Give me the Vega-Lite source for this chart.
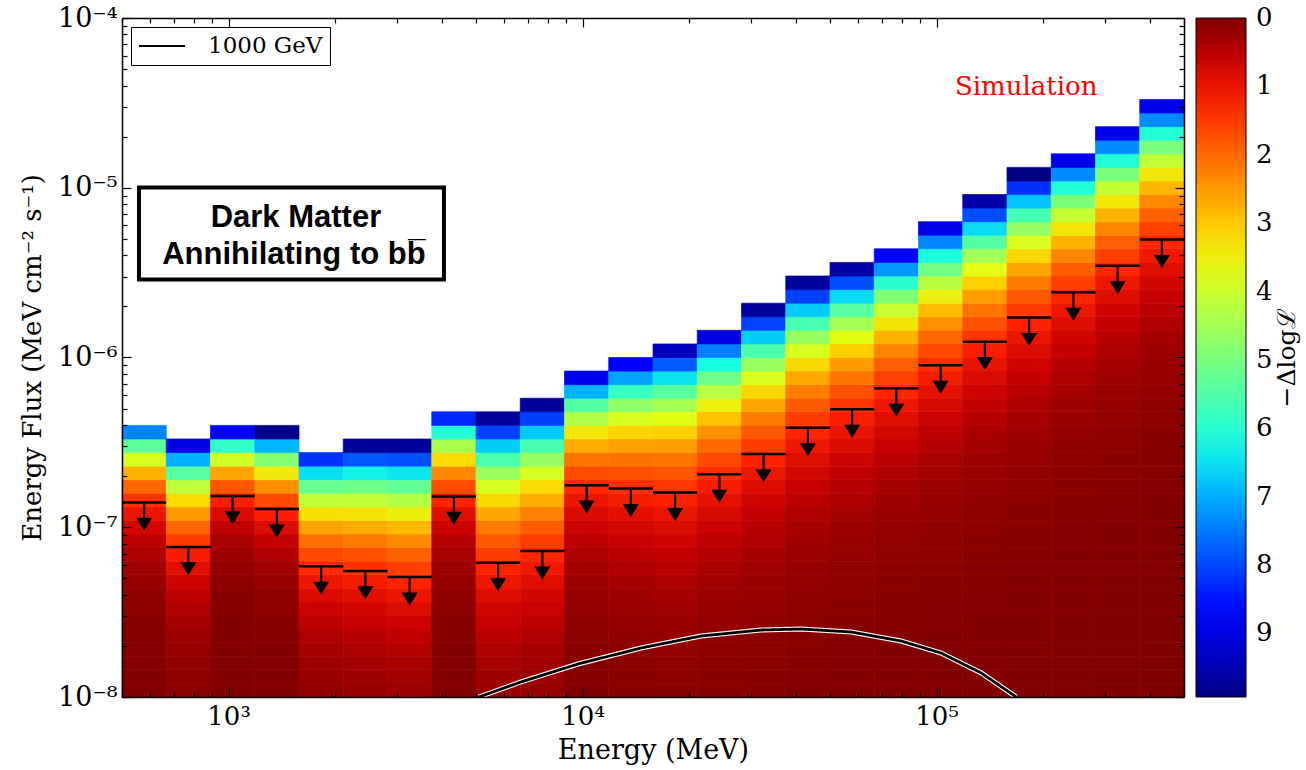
{
"$schema":"https://vega.github.io/schema/vega-lite/v6.json",
"width":1062,"height":679,
"autosize":"none",
"padding":{"left":122,"top":18,"right":122,"bottom":73},
"background":"white",
"config":{"view":{"stroke":null},"font":"DejaVu Serif"},
"datasets":{
"ebins":[{"b":0,"e0":500,"e1":666.76,"ec":577.4},{"b":1,"e0":666.76,"e1":889.14,"ec":769.97},{"b":2,"e0":889.14,"e1":1185.68,"ec":1026.8},{"b":3,"e0":1185.68,"e1":1581.14,"ec":1369.2},{"b":4,"e0":1581.14,"e1":2108.49,"ec":1825.9},{"b":5,"e0":2108.49,"e1":2811.71,"ec":2434.8},{"b":6,"e0":2811.71,"e1":3749.47,"ec":3246.9},{"b":7,"e0":3749.47,"e1":5000,"ec":4329.8},{"b":8,"e0":5000,"e1":6667.6,"ec":5773.9},{"b":9,"e0":6667.6,"e1":8891.4,"ec":7699.7},{"b":10,"e0":8891.4,"e1":11856.8,"ec":10267.6},{"b":11,"e0":11856.8,"e1":15811.4,"ec":13692},{"b":12,"e0":15811.4,"e1":21084.9,"ec":18258.9},{"b":13,"e0":21084.9,"e1":28117.1,"ec":24348.8},{"b":14,"e0":28117.1,"e1":37494.7,"ec":32469.4},{"b":15,"e0":37494.7,"e1":50000,"ec":43298.5},{"b":16,"e0":50000,"e1":66676,"ec":57739},{"b":17,"e0":66676,"e1":88914,"ec":76996},{"b":18,"e0":88914,"e1":118568,"ec":102676},{"b":19,"e0":118568,"e1":158114,"ec":136921},{"b":20,"e0":158114,"e1":210849,"ec":182585},{"b":21,"e0":210849,"e1":281171,"ec":243487},{"b":22,"e0":281171,"e1":374947,"ec":324693},{"b":23,"e0":374947,"e1":500000,"ec":432987}],
"fgrid":[{"k":0,"f0":1e-8,"f1":1.20226e-8},{"k":1,"f0":1.20226e-8,"f1":1.44544e-8},{"k":2,"f0":1.44544e-8,"f1":1.7378e-8},{"k":3,"f0":1.7378e-8,"f1":2.0893e-8},{"k":4,"f0":2.0893e-8,"f1":2.51189e-8},{"k":5,"f0":2.51189e-8,"f1":3.01995e-8},{"k":6,"f0":3.01995e-8,"f1":3.63078e-8},{"k":7,"f0":3.63078e-8,"f1":4.36516e-8},{"k":8,"f0":4.36516e-8,"f1":5.24807e-8},{"k":9,"f0":5.24807e-8,"f1":6.30957e-8},{"k":10,"f0":6.30957e-8,"f1":7.58578e-8},{"k":11,"f0":7.58578e-8,"f1":9.12011e-8},{"k":12,"f0":9.12011e-8,"f1":1.09648e-7},{"k":13,"f0":1.09648e-7,"f1":1.31826e-7},{"k":14,"f0":1.31826e-7,"f1":1.58489e-7},{"k":15,"f0":1.58489e-7,"f1":1.90546e-7},{"k":16,"f0":1.90546e-7,"f1":2.29087e-7},{"k":17,"f0":2.29087e-7,"f1":2.75423e-7},{"k":18,"f0":2.75423e-7,"f1":3.31131e-7},{"k":19,"f0":3.31131e-7,"f1":3.98107e-7},{"k":20,"f0":3.98107e-7,"f1":4.7863e-7},{"k":21,"f0":4.7863e-7,"f1":5.7544e-7},{"k":22,"f0":5.7544e-7,"f1":6.91831e-7},{"k":23,"f0":6.91831e-7,"f1":8.31764e-7},{"k":24,"f0":8.31764e-7,"f1":1e-6},{"k":25,"f0":1e-6,"f1":1.20226e-6},{"k":26,"f0":1.20226e-6,"f1":1.44544e-6},{"k":27,"f0":1.44544e-6,"f1":1.7378e-6},{"k":28,"f0":1.7378e-6,"f1":2.0893e-6},{"k":29,"f0":2.0893e-6,"f1":2.51189e-6},{"k":30,"f0":2.51189e-6,"f1":3.01995e-6},{"k":31,"f0":3.01995e-6,"f1":3.63078e-6},{"k":32,"f0":3.63078e-6,"f1":4.36516e-6},{"k":33,"f0":4.36516e-6,"f1":5.24807e-6},{"k":34,"f0":5.24807e-6,"f1":6.30957e-6},{"k":35,"f0":6.30957e-6,"f1":7.58578e-6},{"k":36,"f0":7.58578e-6,"f1":9.12011e-6},{"k":37,"f0":9.12011e-6,"f1":1.09648e-5},{"k":38,"f0":1.09648e-5,"f1":1.31826e-5},{"k":39,"f0":1.31826e-5,"f1":1.58489e-5},{"k":40,"f0":1.58489e-5,"f1":1.90546e-5},{"k":41,"f0":1.90546e-5,"f1":2.29087e-5},{"k":42,"f0":2.29087e-5,"f1":2.75423e-5},{"k":43,"f0":2.75423e-5,"f1":3.31131e-5}],
"cells":[
{"b":0,"k":0,"dl":-0.014},{"b":0,"k":1,"dl":-0.02},{"b":0,"k":2,"dl":-0.028},{"b":0,"k":3,"dl":-0.039},{"b":0,"k":4,"dl":-0.054},{"b":0,"k":5,"dl":-0.074},{"b":0,"k":6,"dl":-0.103},{"b":0,"k":7,"dl":-0.143},{"b":0,"k":8,"dl":-0.199},{"b":0,"k":9,"dl":-0.277},{"b":0,"k":10,"dl":-0.384},{"b":0,"k":11,"dl":-0.534},{"b":0,"k":12,"dl":-0.742},{"b":0,"k":13,"dl":-1.03},{"b":0,"k":14,"dl":-1.43},{"b":0,"k":15,"dl":-1.99},{"b":0,"k":16,"dl":-2.76},{"b":0,"k":17,"dl":-3.83},{"b":0,"k":18,"dl":-5.33},{"b":0,"k":19,"dl":-7.4},
{"b":1,"k":0,"dl":-0.092},{"b":1,"k":1,"dl":-0.119},{"b":1,"k":2,"dl":-0.153},{"b":1,"k":3,"dl":-0.197},{"b":1,"k":4,"dl":-0.254},{"b":1,"k":5,"dl":-0.328},{"b":1,"k":6,"dl":-0.423},{"b":1,"k":7,"dl":-0.546},{"b":1,"k":8,"dl":-0.705},{"b":1,"k":9,"dl":-0.909},{"b":1,"k":10,"dl":-1.17},{"b":1,"k":11,"dl":-1.51},{"b":1,"k":12,"dl":-1.95},{"b":1,"k":13,"dl":-2.52},{"b":1,"k":14,"dl":-3.25},{"b":1,"k":15,"dl":-4.19},{"b":1,"k":16,"dl":-5.41},{"b":1,"k":17,"dl":-6.98},{"b":1,"k":18,"dl":-9.0},
{"b":2,"k":0,"dl":-0.005},{"b":2,"k":1,"dl":-0.007},{"b":2,"k":2,"dl":-0.01},{"b":2,"k":3,"dl":-0.015},{"b":2,"k":4,"dl":-0.023},{"b":2,"k":5,"dl":-0.034},{"b":2,"k":6,"dl":-0.051},{"b":2,"k":7,"dl":-0.075},{"b":2,"k":8,"dl":-0.112},{"b":2,"k":9,"dl":-0.166},{"b":2,"k":10,"dl":-0.247},{"b":2,"k":11,"dl":-0.366},{"b":2,"k":12,"dl":-0.544},{"b":2,"k":13,"dl":-0.809},{"b":2,"k":14,"dl":-1.2},{"b":2,"k":15,"dl":-1.79},{"b":2,"k":16,"dl":-2.65},{"b":2,"k":17,"dl":-3.94},{"b":2,"k":18,"dl":-5.86},{"b":2,"k":19,"dl":-8.7},
{"b":3,"k":0,"dl":-0.013},{"b":3,"k":1,"dl":-0.018},{"b":3,"k":2,"dl":-0.025},{"b":3,"k":3,"dl":-0.036},{"b":3,"k":4,"dl":-0.051},{"b":3,"k":5,"dl":-0.072},{"b":3,"k":6,"dl":-0.102},{"b":3,"k":7,"dl":-0.145},{"b":3,"k":8,"dl":-0.206},{"b":3,"k":9,"dl":-0.293},{"b":3,"k":10,"dl":-0.416},{"b":3,"k":11,"dl":-0.591},{"b":3,"k":12,"dl":-0.84},{"b":3,"k":13,"dl":-1.19},{"b":3,"k":14,"dl":-1.69},{"b":3,"k":15,"dl":-2.41},{"b":3,"k":16,"dl":-3.42},{"b":3,"k":17,"dl":-4.86},{"b":3,"k":18,"dl":-6.9},{"b":3,"k":19,"dl":-9.8},
{"b":4,"k":0,"dl":-0.167},{"b":4,"k":1,"dl":-0.21},{"b":4,"k":2,"dl":-0.264},{"b":4,"k":3,"dl":-0.332},{"b":4,"k":4,"dl":-0.418},{"b":4,"k":5,"dl":-0.525},{"b":4,"k":6,"dl":-0.66},{"b":4,"k":7,"dl":-0.83},{"b":4,"k":8,"dl":-1.04},{"b":4,"k":9,"dl":-1.31},{"b":4,"k":10,"dl":-1.65},{"b":4,"k":11,"dl":-2.07},{"b":4,"k":12,"dl":-2.61},{"b":4,"k":13,"dl":-3.28},{"b":4,"k":14,"dl":-4.12},{"b":4,"k":15,"dl":-5.19},{"b":4,"k":16,"dl":-6.52},{"b":4,"k":17,"dl":-8.2},
{"b":5,"k":0,"dl":-0.206},{"b":5,"k":1,"dl":-0.255},{"b":5,"k":2,"dl":-0.316},{"b":5,"k":3,"dl":-0.391},{"b":5,"k":4,"dl":-0.485},{"b":5,"k":5,"dl":-0.6},{"b":5,"k":6,"dl":-0.743},{"b":5,"k":7,"dl":-0.921},{"b":5,"k":8,"dl":-1.14},{"b":5,"k":9,"dl":-1.41},{"b":5,"k":10,"dl":-1.75},{"b":5,"k":11,"dl":-2.17},{"b":5,"k":12,"dl":-2.69},{"b":5,"k":13,"dl":-3.33},{"b":5,"k":14,"dl":-4.12},{"b":5,"k":15,"dl":-5.1},{"b":5,"k":16,"dl":-6.32},{"b":5,"k":17,"dl":-7.83},{"b":5,"k":18,"dl":-9.7},
{"b":6,"k":0,"dl":-0.247},{"b":6,"k":1,"dl":-0.302},{"b":6,"k":2,"dl":-0.371},{"b":6,"k":3,"dl":-0.455},{"b":6,"k":4,"dl":-0.558},{"b":6,"k":5,"dl":-0.684},{"b":6,"k":6,"dl":-0.839},{"b":6,"k":7,"dl":-1.03},{"b":6,"k":8,"dl":-1.26},{"b":6,"k":9,"dl":-1.55},{"b":6,"k":10,"dl":-1.9},{"b":6,"k":11,"dl":-2.33},{"b":6,"k":12,"dl":-2.85},{"b":6,"k":13,"dl":-3.5},{"b":6,"k":14,"dl":-4.29},{"b":6,"k":15,"dl":-5.26},{"b":6,"k":16,"dl":-6.45},{"b":6,"k":17,"dl":-7.91},{"b":6,"k":18,"dl":-9.7},
{"b":7,"k":0,"dl":-0.015},{"b":7,"k":1,"dl":-0.02},{"b":7,"k":2,"dl":-0.028},{"b":7,"k":3,"dl":-0.038},{"b":7,"k":4,"dl":-0.052},{"b":7,"k":5,"dl":-0.072},{"b":7,"k":6,"dl":-0.099},{"b":7,"k":7,"dl":-0.135},{"b":7,"k":8,"dl":-0.186},{"b":7,"k":9,"dl":-0.255},{"b":7,"k":10,"dl":-0.35},{"b":7,"k":11,"dl":-0.48},{"b":7,"k":12,"dl":-0.659},{"b":7,"k":13,"dl":-0.904},{"b":7,"k":14,"dl":-1.24},{"b":7,"k":15,"dl":-1.7},{"b":7,"k":16,"dl":-2.34},{"b":7,"k":17,"dl":-3.21},{"b":7,"k":18,"dl":-4.41},{"b":7,"k":19,"dl":-6.05},{"b":7,"k":20,"dl":-8.3},
{"b":8,"k":0,"dl":-0.237},{"b":8,"k":1,"dl":-0.286},{"b":8,"k":2,"dl":-0.344},{"b":8,"k":3,"dl":-0.414},{"b":8,"k":4,"dl":-0.498},{"b":8,"k":5,"dl":-0.6},{"b":8,"k":6,"dl":-0.722},{"b":8,"k":7,"dl":-0.87},{"b":8,"k":8,"dl":-1.05},{"b":8,"k":9,"dl":-1.26},{"b":8,"k":10,"dl":-1.52},{"b":8,"k":11,"dl":-1.83},{"b":8,"k":12,"dl":-2.2},{"b":8,"k":13,"dl":-2.65},{"b":8,"k":14,"dl":-3.18},{"b":8,"k":15,"dl":-3.83},{"b":8,"k":16,"dl":-4.62},{"b":8,"k":17,"dl":-5.56},{"b":8,"k":18,"dl":-6.69},{"b":8,"k":19,"dl":-8.06},{"b":8,"k":20,"dl":-9.7},
{"b":9,"k":0,"dl":-0.206},{"b":9,"k":1,"dl":-0.247},{"b":9,"k":2,"dl":-0.297},{"b":9,"k":3,"dl":-0.357},{"b":9,"k":4,"dl":-0.429},{"b":9,"k":5,"dl":-0.515},{"b":9,"k":6,"dl":-0.619},{"b":9,"k":7,"dl":-0.743},{"b":9,"k":8,"dl":-0.893},{"b":9,"k":9,"dl":-1.07},{"b":9,"k":10,"dl":-1.29},{"b":9,"k":11,"dl":-1.55},{"b":9,"k":12,"dl":-1.86},{"b":9,"k":13,"dl":-2.24},{"b":9,"k":14,"dl":-2.69},{"b":9,"k":15,"dl":-3.23},{"b":9,"k":16,"dl":-3.88},{"b":9,"k":17,"dl":-4.66},{"b":9,"k":18,"dl":-5.6},{"b":9,"k":19,"dl":-6.72},{"b":9,"k":20,"dl":-8.07},{"b":9,"k":21,"dl":-9.7},
{"b":10,"k":0,"dl":-0.038},{"b":10,"k":1,"dl":-0.048},{"b":10,"k":2,"dl":-0.061},{"b":10,"k":3,"dl":-0.077},{"b":10,"k":4,"dl":-0.098},{"b":10,"k":5,"dl":-0.124},{"b":10,"k":6,"dl":-0.157},{"b":10,"k":7,"dl":-0.199},{"b":10,"k":8,"dl":-0.252},{"b":10,"k":9,"dl":-0.32},{"b":10,"k":10,"dl":-0.405},{"b":10,"k":11,"dl":-0.513},{"b":10,"k":12,"dl":-0.65},{"b":10,"k":13,"dl":-0.824},{"b":10,"k":14,"dl":-1.04},{"b":10,"k":15,"dl":-1.32},{"b":10,"k":16,"dl":-1.68},{"b":10,"k":17,"dl":-2.13},{"b":10,"k":18,"dl":-2.69},{"b":10,"k":19,"dl":-3.41},{"b":10,"k":20,"dl":-4.32},{"b":10,"k":21,"dl":-5.48},{"b":10,"k":22,"dl":-6.94},{"b":10,"k":23,"dl":-8.8},
{"b":11,"k":0,"dl":-0.066},{"b":11,"k":1,"dl":-0.081},{"b":11,"k":2,"dl":-0.099},{"b":11,"k":3,"dl":-0.121},{"b":11,"k":4,"dl":-0.149},{"b":11,"k":5,"dl":-0.182},{"b":11,"k":6,"dl":-0.223},{"b":11,"k":7,"dl":-0.274},{"b":11,"k":8,"dl":-0.335},{"b":11,"k":9,"dl":-0.411},{"b":11,"k":10,"dl":-0.504},{"b":11,"k":11,"dl":-0.618},{"b":11,"k":12,"dl":-0.757},{"b":11,"k":13,"dl":-0.928},{"b":11,"k":14,"dl":-1.14},{"b":11,"k":15,"dl":-1.39},{"b":11,"k":16,"dl":-1.71},{"b":11,"k":17,"dl":-2.09},{"b":11,"k":18,"dl":-2.57},{"b":11,"k":19,"dl":-3.14},{"b":11,"k":20,"dl":-3.85},{"b":11,"k":21,"dl":-4.72},{"b":11,"k":22,"dl":-5.79},{"b":11,"k":23,"dl":-7.1},{"b":11,"k":24,"dl":-8.7},
{"b":12,"k":0,"dl":-0.09},{"b":12,"k":1,"dl":-0.109},{"b":12,"k":2,"dl":-0.131},{"b":12,"k":3,"dl":-0.158},{"b":12,"k":4,"dl":-0.19},{"b":12,"k":5,"dl":-0.229},{"b":12,"k":6,"dl":-0.275},{"b":12,"k":7,"dl":-0.332},{"b":12,"k":8,"dl":-0.399},{"b":12,"k":9,"dl":-0.481},{"b":12,"k":10,"dl":-0.579},{"b":12,"k":11,"dl":-0.697},{"b":12,"k":12,"dl":-0.84},{"b":12,"k":13,"dl":-1.01},{"b":12,"k":14,"dl":-1.22},{"b":12,"k":15,"dl":-1.47},{"b":12,"k":16,"dl":-1.77},{"b":12,"k":17,"dl":-2.13},{"b":12,"k":18,"dl":-2.56},{"b":12,"k":19,"dl":-3.08},{"b":12,"k":20,"dl":-3.71},{"b":12,"k":21,"dl":-4.47},{"b":12,"k":22,"dl":-5.38},{"b":12,"k":23,"dl":-6.48},{"b":12,"k":24,"dl":-7.81},{"b":12,"k":25,"dl":-9.4},
{"b":13,"k":0,"dl":-0.068},{"b":13,"k":1,"dl":-0.082},{"b":13,"k":2,"dl":-0.099},{"b":13,"k":3,"dl":-0.12},{"b":13,"k":4,"dl":-0.144},{"b":13,"k":5,"dl":-0.174},{"b":13,"k":6,"dl":-0.21},{"b":13,"k":7,"dl":-0.254},{"b":13,"k":8,"dl":-0.306},{"b":13,"k":9,"dl":-0.369},{"b":13,"k":10,"dl":-0.446},{"b":13,"k":11,"dl":-0.538},{"b":13,"k":12,"dl":-0.649},{"b":13,"k":13,"dl":-0.783},{"b":13,"k":14,"dl":-0.945},{"b":13,"k":15,"dl":-1.14},{"b":13,"k":16,"dl":-1.38},{"b":13,"k":17,"dl":-1.66},{"b":13,"k":18,"dl":-2.0},{"b":13,"k":19,"dl":-2.42},{"b":13,"k":20,"dl":-2.92},{"b":13,"k":21,"dl":-3.52},{"b":13,"k":22,"dl":-4.25},{"b":13,"k":23,"dl":-5.12},{"b":13,"k":24,"dl":-6.18},{"b":13,"k":25,"dl":-7.46},{"b":13,"k":26,"dl":-9.0},
{"b":14,"k":0,"dl":-0.053},{"b":14,"k":1,"dl":-0.064},{"b":14,"k":2,"dl":-0.077},{"b":14,"k":3,"dl":-0.093},{"b":14,"k":4,"dl":-0.112},{"b":14,"k":5,"dl":-0.135},{"b":14,"k":6,"dl":-0.162},{"b":14,"k":7,"dl":-0.195},{"b":14,"k":8,"dl":-0.235},{"b":14,"k":9,"dl":-0.283},{"b":14,"k":10,"dl":-0.341},{"b":14,"k":11,"dl":-0.411},{"b":14,"k":12,"dl":-0.495},{"b":14,"k":13,"dl":-0.596},{"b":14,"k":14,"dl":-0.718},{"b":14,"k":15,"dl":-0.865},{"b":14,"k":16,"dl":-1.04},{"b":14,"k":17,"dl":-1.25},{"b":14,"k":18,"dl":-1.51},{"b":14,"k":19,"dl":-1.82},{"b":14,"k":20,"dl":-2.19},{"b":14,"k":21,"dl":-2.64},{"b":14,"k":22,"dl":-3.18},{"b":14,"k":23,"dl":-3.83},{"b":14,"k":24,"dl":-4.61},{"b":14,"k":25,"dl":-5.55},{"b":14,"k":26,"dl":-6.69},{"b":14,"k":27,"dl":-8.05},{"b":14,"k":28,"dl":-9.7},
{"b":15,"k":0,"dl":-0.038},{"b":15,"k":1,"dl":-0.046},{"b":15,"k":2,"dl":-0.055},{"b":15,"k":3,"dl":-0.067},{"b":15,"k":4,"dl":-0.08},{"b":15,"k":5,"dl":-0.096},{"b":15,"k":6,"dl":-0.116},{"b":15,"k":7,"dl":-0.139},{"b":15,"k":8,"dl":-0.168},{"b":15,"k":9,"dl":-0.202},{"b":15,"k":10,"dl":-0.242},{"b":15,"k":11,"dl":-0.291},{"b":15,"k":12,"dl":-0.351},{"b":15,"k":13,"dl":-0.422},{"b":15,"k":14,"dl":-0.507},{"b":15,"k":15,"dl":-0.61},{"b":15,"k":16,"dl":-0.733},{"b":15,"k":17,"dl":-0.882},{"b":15,"k":18,"dl":-1.06},{"b":15,"k":19,"dl":-1.28},{"b":15,"k":20,"dl":-1.53},{"b":15,"k":21,"dl":-1.84},{"b":15,"k":22,"dl":-2.22},{"b":15,"k":23,"dl":-2.66},{"b":15,"k":24,"dl":-3.2},{"b":15,"k":25,"dl":-3.85},{"b":15,"k":26,"dl":-4.64},{"b":15,"k":27,"dl":-5.58},{"b":15,"k":28,"dl":-6.71},{"b":15,"k":29,"dl":-8.07},{"b":15,"k":30,"dl":-9.7},
{"b":16,"k":0,"dl":-0.026},{"b":16,"k":1,"dl":-0.032},{"b":16,"k":2,"dl":-0.039},{"b":16,"k":3,"dl":-0.047},{"b":16,"k":4,"dl":-0.057},{"b":16,"k":5,"dl":-0.068},{"b":16,"k":6,"dl":-0.083},{"b":16,"k":7,"dl":-0.1},{"b":16,"k":8,"dl":-0.121},{"b":16,"k":9,"dl":-0.146},{"b":16,"k":10,"dl":-0.177},{"b":16,"k":11,"dl":-0.214},{"b":16,"k":12,"dl":-0.258},{"b":16,"k":13,"dl":-0.313},{"b":16,"k":14,"dl":-0.378},{"b":16,"k":15,"dl":-0.457},{"b":16,"k":16,"dl":-0.553},{"b":16,"k":17,"dl":-0.669},{"b":16,"k":18,"dl":-0.809},{"b":16,"k":19,"dl":-0.979},{"b":16,"k":20,"dl":-1.18},{"b":16,"k":21,"dl":-1.43},{"b":16,"k":22,"dl":-1.73},{"b":16,"k":23,"dl":-2.1},{"b":16,"k":24,"dl":-2.53},{"b":16,"k":25,"dl":-3.07},{"b":16,"k":26,"dl":-3.71},{"b":16,"k":27,"dl":-4.49},{"b":16,"k":28,"dl":-5.43},{"b":16,"k":29,"dl":-6.56},{"b":16,"k":30,"dl":-7.94},{"b":16,"k":31,"dl":-9.6},
{"b":17,"k":0,"dl":-0.019},{"b":17,"k":1,"dl":-0.023},{"b":17,"k":2,"dl":-0.028},{"b":17,"k":3,"dl":-0.034},{"b":17,"k":4,"dl":-0.042},{"b":17,"k":5,"dl":-0.05},{"b":17,"k":6,"dl":-0.061},{"b":17,"k":7,"dl":-0.074},{"b":17,"k":8,"dl":-0.089},{"b":17,"k":9,"dl":-0.108},{"b":17,"k":10,"dl":-0.13},{"b":17,"k":11,"dl":-0.158},{"b":17,"k":12,"dl":-0.191},{"b":17,"k":13,"dl":-0.231},{"b":17,"k":14,"dl":-0.28},{"b":17,"k":15,"dl":-0.338},{"b":17,"k":16,"dl":-0.41},{"b":17,"k":17,"dl":-0.496},{"b":17,"k":18,"dl":-0.6},{"b":17,"k":19,"dl":-0.726},{"b":17,"k":20,"dl":-0.879},{"b":17,"k":21,"dl":-1.06},{"b":17,"k":22,"dl":-1.29},{"b":17,"k":23,"dl":-1.56},{"b":17,"k":24,"dl":-1.89},{"b":17,"k":25,"dl":-2.29},{"b":17,"k":26,"dl":-2.77},{"b":17,"k":27,"dl":-3.35},{"b":17,"k":28,"dl":-4.05},{"b":17,"k":29,"dl":-4.91},{"b":17,"k":30,"dl":-5.94},{"b":17,"k":31,"dl":-7.19},{"b":17,"k":32,"dl":-8.7},
{"b":18,"k":0,"dl":-0.015},{"b":18,"k":1,"dl":-0.019},{"b":18,"k":2,"dl":-0.022},{"b":18,"k":3,"dl":-0.027},{"b":18,"k":4,"dl":-0.032},{"b":18,"k":5,"dl":-0.039},{"b":18,"k":6,"dl":-0.047},{"b":18,"k":7,"dl":-0.057},{"b":18,"k":8,"dl":-0.069},{"b":18,"k":9,"dl":-0.083},{"b":18,"k":10,"dl":-0.1},{"b":18,"k":11,"dl":-0.12},{"b":18,"k":12,"dl":-0.145},{"b":18,"k":13,"dl":-0.175},{"b":18,"k":14,"dl":-0.211},{"b":18,"k":15,"dl":-0.254},{"b":18,"k":16,"dl":-0.306},{"b":18,"k":17,"dl":-0.37},{"b":18,"k":18,"dl":-0.446},{"b":18,"k":19,"dl":-0.537},{"b":18,"k":20,"dl":-0.648},{"b":18,"k":21,"dl":-0.781},{"b":18,"k":22,"dl":-0.942},{"b":18,"k":23,"dl":-1.14},{"b":18,"k":24,"dl":-1.37},{"b":18,"k":25,"dl":-1.65},{"b":18,"k":26,"dl":-1.99},{"b":18,"k":27,"dl":-2.4},{"b":18,"k":28,"dl":-2.9},{"b":18,"k":29,"dl":-3.49},{"b":18,"k":30,"dl":-4.21},{"b":18,"k":31,"dl":-5.08},{"b":18,"k":32,"dl":-6.12},{"b":18,"k":33,"dl":-7.38},{"b":18,"k":34,"dl":-8.9},
{"b":19,"k":0,"dl":-0.011},{"b":19,"k":1,"dl":-0.013},{"b":19,"k":2,"dl":-0.015},{"b":19,"k":3,"dl":-0.019},{"b":19,"k":4,"dl":-0.022},{"b":19,"k":5,"dl":-0.027},{"b":19,"k":6,"dl":-0.033},{"b":19,"k":7,"dl":-0.039},{"b":19,"k":8,"dl":-0.048},{"b":19,"k":9,"dl":-0.058},{"b":19,"k":10,"dl":-0.07},{"b":19,"k":11,"dl":-0.084},{"b":19,"k":12,"dl":-0.102},{"b":19,"k":13,"dl":-0.123},{"b":19,"k":14,"dl":-0.149},{"b":19,"k":15,"dl":-0.18},{"b":19,"k":16,"dl":-0.217},{"b":19,"k":17,"dl":-0.262},{"b":19,"k":18,"dl":-0.317},{"b":19,"k":19,"dl":-0.383},{"b":19,"k":20,"dl":-0.463},{"b":19,"k":21,"dl":-0.56},{"b":19,"k":22,"dl":-0.676},{"b":19,"k":23,"dl":-0.818},{"b":19,"k":24,"dl":-0.988},{"b":19,"k":25,"dl":-1.19},{"b":19,"k":26,"dl":-1.44},{"b":19,"k":27,"dl":-1.74},{"b":19,"k":28,"dl":-2.11},{"b":19,"k":29,"dl":-2.55},{"b":19,"k":30,"dl":-3.08},{"b":19,"k":31,"dl":-3.72},{"b":19,"k":32,"dl":-4.5},{"b":19,"k":33,"dl":-5.44},{"b":19,"k":34,"dl":-6.57},{"b":19,"k":35,"dl":-7.94},{"b":19,"k":36,"dl":-9.6},
{"b":20,"k":0,"dl":-0.008},{"b":20,"k":1,"dl":-0.009},{"b":20,"k":2,"dl":-0.011},{"b":20,"k":3,"dl":-0.013},{"b":20,"k":4,"dl":-0.016},{"b":20,"k":5,"dl":-0.02},{"b":20,"k":6,"dl":-0.024},{"b":20,"k":7,"dl":-0.029},{"b":20,"k":8,"dl":-0.034},{"b":20,"k":9,"dl":-0.042},{"b":20,"k":10,"dl":-0.05},{"b":20,"k":11,"dl":-0.061},{"b":20,"k":12,"dl":-0.073},{"b":20,"k":13,"dl":-0.089},{"b":20,"k":14,"dl":-0.107},{"b":20,"k":15,"dl":-0.129},{"b":20,"k":16,"dl":-0.156},{"b":20,"k":17,"dl":-0.188},{"b":20,"k":18,"dl":-0.227},{"b":20,"k":19,"dl":-0.275},{"b":20,"k":20,"dl":-0.332},{"b":20,"k":21,"dl":-0.4},{"b":20,"k":22,"dl":-0.484},{"b":20,"k":23,"dl":-0.584},{"b":20,"k":24,"dl":-0.705},{"b":20,"k":25,"dl":-0.852},{"b":20,"k":26,"dl":-1.03},{"b":20,"k":27,"dl":-1.24},{"b":20,"k":28,"dl":-1.5},{"b":20,"k":29,"dl":-1.81},{"b":20,"k":30,"dl":-2.19},{"b":20,"k":31,"dl":-2.64},{"b":20,"k":32,"dl":-3.19},{"b":20,"k":33,"dl":-3.85},{"b":20,"k":34,"dl":-4.65},{"b":20,"k":35,"dl":-5.62},{"b":20,"k":36,"dl":-6.79},{"b":20,"k":37,"dl":-8.2},{"b":20,"k":38,"dl":-9.9},
{"b":21,"k":0,"dl":-0.005},{"b":21,"k":1,"dl":-0.006},{"b":21,"k":2,"dl":-0.007},{"b":21,"k":3,"dl":-0.008},{"b":21,"k":4,"dl":-0.01},{"b":21,"k":5,"dl":-0.012},{"b":21,"k":6,"dl":-0.015},{"b":21,"k":7,"dl":-0.018},{"b":21,"k":8,"dl":-0.021},{"b":21,"k":9,"dl":-0.026},{"b":21,"k":10,"dl":-0.032},{"b":21,"k":11,"dl":-0.039},{"b":21,"k":12,"dl":-0.047},{"b":21,"k":13,"dl":-0.057},{"b":21,"k":14,"dl":-0.069},{"b":21,"k":15,"dl":-0.084},{"b":21,"k":16,"dl":-0.102},{"b":21,"k":17,"dl":-0.124},{"b":21,"k":18,"dl":-0.15},{"b":21,"k":19,"dl":-0.183},{"b":21,"k":20,"dl":-0.222},{"b":21,"k":21,"dl":-0.269},{"b":21,"k":22,"dl":-0.327},{"b":21,"k":23,"dl":-0.397},{"b":21,"k":24,"dl":-0.482},{"b":21,"k":25,"dl":-0.586},{"b":21,"k":26,"dl":-0.711},{"b":21,"k":27,"dl":-0.864},{"b":21,"k":28,"dl":-1.05},{"b":21,"k":29,"dl":-1.28},{"b":21,"k":30,"dl":-1.55},{"b":21,"k":31,"dl":-1.88},{"b":21,"k":32,"dl":-2.29},{"b":21,"k":33,"dl":-2.78},{"b":21,"k":34,"dl":-3.37},{"b":21,"k":35,"dl":-4.09},{"b":21,"k":36,"dl":-4.97},{"b":21,"k":37,"dl":-6.04},{"b":21,"k":38,"dl":-7.33},{"b":21,"k":39,"dl":-8.9},
{"b":22,"k":0,"dl":-0.003},{"b":22,"k":1,"dl":-0.004},{"b":22,"k":2,"dl":-0.005},{"b":22,"k":3,"dl":-0.006},{"b":22,"k":4,"dl":-0.007},{"b":22,"k":5,"dl":-0.008},{"b":22,"k":6,"dl":-0.01},{"b":22,"k":7,"dl":-0.012},{"b":22,"k":8,"dl":-0.015},{"b":22,"k":9,"dl":-0.018},{"b":22,"k":10,"dl":-0.022},{"b":22,"k":11,"dl":-0.027},{"b":22,"k":12,"dl":-0.033},{"b":22,"k":13,"dl":-0.04},{"b":22,"k":14,"dl":-0.048},{"b":22,"k":15,"dl":-0.058},{"b":22,"k":16,"dl":-0.071},{"b":22,"k":17,"dl":-0.086},{"b":22,"k":18,"dl":-0.104},{"b":22,"k":19,"dl":-0.126},{"b":22,"k":20,"dl":-0.153},{"b":22,"k":21,"dl":-0.186},{"b":22,"k":22,"dl":-0.225},{"b":22,"k":23,"dl":-0.273},{"b":22,"k":24,"dl":-0.332},{"b":22,"k":25,"dl":-0.402},{"b":22,"k":26,"dl":-0.488},{"b":22,"k":27,"dl":-0.593},{"b":22,"k":28,"dl":-0.719},{"b":22,"k":29,"dl":-0.873},{"b":22,"k":30,"dl":-1.06},{"b":22,"k":31,"dl":-1.29},{"b":22,"k":32,"dl":-1.56},{"b":22,"k":33,"dl":-1.89},{"b":22,"k":34,"dl":-2.3},{"b":22,"k":35,"dl":-2.79},{"b":22,"k":36,"dl":-3.38},{"b":22,"k":37,"dl":-4.11},{"b":22,"k":38,"dl":-4.98},{"b":22,"k":39,"dl":-6.04},{"b":22,"k":40,"dl":-7.33},{"b":22,"k":41,"dl":-8.9},
{"b":23,"k":0,"dl":-0.002},{"b":23,"k":1,"dl":-0.003},{"b":23,"k":2,"dl":-0.003},{"b":23,"k":3,"dl":-0.004},{"b":23,"k":4,"dl":-0.005},{"b":23,"k":5,"dl":-0.006},{"b":23,"k":6,"dl":-0.007},{"b":23,"k":7,"dl":-0.009},{"b":23,"k":8,"dl":-0.011},{"b":23,"k":9,"dl":-0.013},{"b":23,"k":10,"dl":-0.016},{"b":23,"k":11,"dl":-0.019},{"b":23,"k":12,"dl":-0.023},{"b":23,"k":13,"dl":-0.028},{"b":23,"k":14,"dl":-0.034},{"b":23,"k":15,"dl":-0.041},{"b":23,"k":16,"dl":-0.05},{"b":23,"k":17,"dl":-0.06},{"b":23,"k":18,"dl":-0.073},{"b":23,"k":19,"dl":-0.088},{"b":23,"k":20,"dl":-0.107},{"b":23,"k":21,"dl":-0.13},{"b":23,"k":22,"dl":-0.157},{"b":23,"k":23,"dl":-0.19},{"b":23,"k":24,"dl":-0.231},{"b":23,"k":25,"dl":-0.28},{"b":23,"k":26,"dl":-0.339},{"b":23,"k":27,"dl":-0.411},{"b":23,"k":28,"dl":-0.498},{"b":23,"k":29,"dl":-0.603},{"b":23,"k":30,"dl":-0.731},{"b":23,"k":31,"dl":-0.886},{"b":23,"k":32,"dl":-1.07},{"b":23,"k":33,"dl":-1.3},{"b":23,"k":34,"dl":-1.58},{"b":23,"k":35,"dl":-1.91},{"b":23,"k":36,"dl":-2.32},{"b":23,"k":37,"dl":-2.81},{"b":23,"k":38,"dl":-3.4},{"b":23,"k":39,"dl":-4.13},{"b":23,"k":40,"dl":-5.0},{"b":23,"k":41,"dl":-6.06},{"b":23,"k":42,"dl":-7.34},{"b":23,"k":43,"dl":-8.9}
],
"uls":[{"b":0,"ul":1.40e-7},{"b":1,"ul":7.66e-8},{"b":2,"ul":1.53e-7},{"b":3,"ul":1.28e-7},{"b":4,"ul":5.89e-8},{"b":5,"ul":5.53e-8},{"b":6,"ul":5.09e-8},{"b":7,"ul":1.52e-7},{"b":8,"ul":6.17e-8},{"b":9,"ul":7.24e-8},{"b":10,"ul":1.77e-7},{"b":11,"ul":1.69e-7},{"b":12,"ul":1.60e-7},{"b":13,"ul":2.05e-7},{"b":14,"ul":2.70e-7},{"b":15,"ul":3.85e-7},{"b":16,"ul":4.95e-7},{"b":17,"ul":6.59e-7},{"b":18,"ul":8.99e-7},{"b":19,"ul":1.24e-6},{"b":20,"ul":1.72e-6},{"b":21,"ul":2.42e-6},{"b":22,"ul":3.47e-6},{"b":23,"ul":4.95e-6}],
"dm":[{"E":5093,"F":1.0e-8},{"E":6699,"F":1.226e-8},{"E":9705,"F":1.564e-8},{"E":14620,"F":1.944e-8},{"E":21600,"F":2.286e-8},{"E":31900,"F":2.48e-8},{"E":41400,"F":2.515e-8},{"E":57400,"F":2.415e-8},{"E":79400,"F":2.138e-8},{"E":103000,"F":1.816e-8},{"E":133700,"F":1.385e-8},{"E":167900,"F":1.0e-8}],
"box":[{"x0":558.4,"x1":4059,"y0":2.881e-6,"y1":1.0035e-5}],
"boxtext":[{"t":"Dark Matter","E":1550,"F":6.63e-6},{"t":"Annihilating to bb̅","E":1530,"F":4.0e-6}],
"sim":[{"t":"Simulation","E":179200,"F":3.937e-5}]
},
"layer":[
{
"data":{"name":"cells"},
"transform":[
{"lookup":"b","from":{"data":{"name":"ebins"},"key":"b","fields":["e0","e1"]}},
{"lookup":"k","from":{"data":{"name":"fgrid"},"key":"k","fields":["f0","f1"]}}
],
"mark":{"type":"rect","stroke":{"expr":"scale('color', datum.dl)"},"strokeWidth":0.7},
"encoding":{
"x":{"field":"e0","type":"quantitative","scale":{"type":"log","domain":[500,500000],"nice":false},
 "axis":{"orient":"bottom","values":[500,600,700,800,900,1000,2000,3000,4000,5000,6000,7000,8000,9000,10000,20000,30000,40000,50000,60000,70000,80000,90000,100000,200000,300000,400000,500000],
 "labelExpr":"datum.value==1000?'10³':datum.value==10000?'10⁴':datum.value==100000?'10⁵':''",
 "tickSize":{"condition":{"test":"datum.value==1000||datum.value==10000||datum.value==100000","value":-9},"value":-5},
 "tickColor":"black","tickWidth":1.2,"domainColor":"black","domainWidth":1.5,"grid":false,"zindex":1,
 "labelFont":"DejaVu Serif","labelFontSize":26,"labelColor":"black","labelPadding":15,"labelFlush":false,"labelOverlap":false,"labelBaseline":"top",
 "title":"Energy (MeV)","titleFont":"DejaVu Serif","titleFontSize":27,"titleFontWeight":"normal","titleColor":"black","titlePadding":4}},
"x2":{"field":"e1"},
"y":{"field":"f0","type":"quantitative","scale":{"type":"log","domain":[1e-8,1e-4],"nice":false},
 "axis":{"orient":"left","values":[1e-8,2e-8,3e-8,4e-8,5e-8,6e-8,7e-8,8e-8,9e-8,1e-7,2e-7,3e-7,4e-7,5e-7,6e-7,7e-7,8e-7,9e-7,1e-6,2e-6,3e-6,4e-6,5e-6,6e-6,7e-6,8e-6,9e-6,1e-5,2e-5,3e-5,4e-5,5e-5,6e-5,7e-5,8e-5,9e-5,1e-4],
 "labelExpr":"datum.value==1e-8?'10⁻⁸':datum.value==1e-7?'10⁻⁷':datum.value==1e-6?'10⁻⁶':datum.value==1e-5?'10⁻⁵':datum.value==1e-4?'10⁻⁴':''",
 "tickSize":{"condition":{"test":"datum.value==1e-8||datum.value==1e-7||datum.value==1e-6||datum.value==1e-5||datum.value==1e-4","value":-9},"value":-5},
 "tickColor":"black","tickWidth":1.2,"domainColor":"black","domainWidth":1.5,"grid":false,"zindex":1,
 "labelFont":"DejaVu Serif","labelFontSize":27,"labelColor":"black","labelPadding":14,"labelFlush":false,"labelOverlap":false,
 "title":"Energy Flux (MeV cm⁻² s⁻¹)","titleFont":"DejaVu Serif","titleFontSize":26,"titleFontWeight":"normal","titleColor":"black","titlePadding":12}},
"y2":{"field":"f1"},
"color":{"field":"dl","type":"quantitative","scale":{"domain":[-9.93,0],"clamp":true,"interpolate":"rgb","range":["#000080","#0000C8","#0000FF","#0040FF","#0080FF","#00BFFF","#15FFE2","#48FFAF","#7BFF7B","#AFFF48","#E2FF15","#FFD200","#FF9700","#FF5C00","#FF2100","#C80000","#800000"]},
 "legend":{"type":"gradient","orient":"right","offset":11,"padding":0,"direction":"vertical","gradientLength":679,"gradientThickness":50,"gradientStrokeColor":"black","gradientStrokeWidth":1,
 "values":[-9,-8,-7,-6,-5,-4,-3,-2,-1,0],"labelExpr":"format(abs(datum.value),'d')","labelFont":"DejaVu Serif","labelFontSize":26,"labelColor":"black","labelOffset":10,"labelOverlap":false,
 "title":"−Δlogℒ","titleFont":"DejaVu Serif","titleFontSize":25,"titleFontWeight":"normal","titleColor":"black","titleOrient":"right","titleAnchor":"middle","titlePadding":2,
 "encode":{"labels":{"update":{"baseline":{"value":"middle"}}},"title":{"update":{"angle":{"value":270},"baseline":{"value":"top"}}}}}}
}
},
{
"data":{"name":"uls"},
"transform":[{"lookup":"b","from":{"data":{"name":"ebins"},"key":"b","fields":["e0","e1","ec"]}}],
"mark":{"type":"rule","color":"black","strokeWidth":2.5},
"encoding":{
"x":{"field":"e0","type":"quantitative","scale":{"type":"log","domain":[500,500000],"nice":false},
 "axis":{"orient":"top","values":[500,600,700,800,900,1000,2000,3000,4000,5000,6000,7000,8000,9000,10000,20000,30000,40000,50000,60000,70000,80000,90000,100000,200000,300000,400000,500000],
 "labels":false,"title":null,
 "tickSize":{"condition":{"test":"datum.value==1000||datum.value==10000||datum.value==100000","value":-9},"value":-5},
 "tickColor":"black","tickWidth":1.2,"domainColor":"black","domainWidth":1.5,"grid":false,"zindex":1}},
"x2":{"field":"e1"},
"y":{"field":"ul","type":"quantitative","scale":{"type":"log","domain":[1e-8,1e-4],"nice":false},
 "axis":{"orient":"right","values":[1e-8,2e-8,3e-8,4e-8,5e-8,6e-8,7e-8,8e-8,9e-8,1e-7,2e-7,3e-7,4e-7,5e-7,6e-7,7e-7,8e-7,9e-7,1e-6,2e-6,3e-6,4e-6,5e-6,6e-6,7e-6,8e-6,9e-6,1e-5,2e-5,3e-5,4e-5,5e-5,6e-5,7e-5,8e-5,9e-5,1e-4],
 "labels":false,"title":null,
 "tickSize":{"condition":{"test":"datum.value==1e-8||datum.value==1e-7||datum.value==1e-6||datum.value==1e-5||datum.value==1e-4","value":-9},"value":-5},
 "tickColor":"black","tickWidth":1.2,"domainColor":"black","domainWidth":1.5,"grid":false,"zindex":1}}
}
},
{
"data":{"name":"uls"},
"transform":[{"lookup":"b","from":{"data":{"name":"ebins"},"key":"b","fields":["ec"]}}],
"mark":{"type":"point","shape":"M0,0L0,1.15M-0.4,1.1L0.4,1.1L0,1.75Z","size":900,"filled":true,"color":"black","stroke":"black","strokeWidth":2.2,"opacity":1},
"encoding":{
"x":{"field":"ec","type":"quantitative","scale":{"type":"log","domain":[500,500000],"nice":false},"axis":null},
"y":{"field":"ul","type":"quantitative","scale":{"type":"log","domain":[1e-8,1e-4],"nice":false},"axis":null}
}
},
{
"data":{"name":"dm"},
"mark":{"type":"line","color":"white","strokeWidth":5,"clip":true},
"encoding":{
"x":{"field":"E","type":"quantitative","scale":{"type":"log","domain":[500,500000],"nice":false},"axis":null},
"y":{"field":"F","type":"quantitative","scale":{"type":"log","domain":[1e-8,1e-4],"nice":false},"axis":null}
}
},
{
"data":{"name":"dm"},
"mark":{"type":"line","color":"black","strokeWidth":2.8,"clip":true},
"encoding":{
"x":{"field":"E","type":"quantitative","scale":{"type":"log","domain":[500,500000],"nice":false},"axis":null},
"y":{"field":"F","type":"quantitative","scale":{"type":"log","domain":[1e-8,1e-4],"nice":false},"axis":null},
"strokeDash":{"datum":"1000 GeV","type":"nominal","scale":{"range":[[1,0]]},
 "legend":{"orient":"top-left","offset":9,"padding":7,"strokeColor":"black","fillColor":"white","title":null,
 "symbolType":"stroke","symbolSize":2116,"symbolStrokeWidth":2,"symbolStrokeColor":"black","clipHeight":24,
 "labelFont":"DejaVu Serif","labelFontSize":23,"labelColor":"black","labelOffset":22}}
}
},
{
"data":{"name":"box"},
"mark":{"type":"rect","fill":"white","stroke":"black","strokeWidth":4},
"encoding":{
"x":{"field":"x0","type":"quantitative","scale":{"type":"log","domain":[500,500000],"nice":false},"axis":null},
"x2":{"field":"x1"},
"y":{"field":"y0","type":"quantitative","scale":{"type":"log","domain":[1e-8,1e-4],"nice":false},"axis":null},
"y2":{"field":"y1"}
}
},
{
"data":{"name":"boxtext"},
"mark":{"type":"text","font":"Liberation Sans","fontWeight":"bold","fontSize":31,"align":"center","baseline":"middle","color":"black"},
"encoding":{
"x":{"field":"E","type":"quantitative","scale":{"type":"log","domain":[500,500000],"nice":false},"axis":null},
"y":{"field":"F","type":"quantitative","scale":{"type":"log","domain":[1e-8,1e-4],"nice":false},"axis":null},
"text":{"field":"t"}
}
},
{
"data":{"name":"sim"},
"mark":{"type":"text","font":"DejaVu Serif","fontSize":26,"align":"center","baseline":"middle","color":"red"},
"encoding":{
"x":{"field":"E","type":"quantitative","scale":{"type":"log","domain":[500,500000],"nice":false},"axis":null},
"y":{"field":"F","type":"quantitative","scale":{"type":"log","domain":[1e-8,1e-4],"nice":false},"axis":null},
"text":{"field":"t"}
}
}
],
"resolve":{"axis":{"x":"independent","y":"independent"}}
}
